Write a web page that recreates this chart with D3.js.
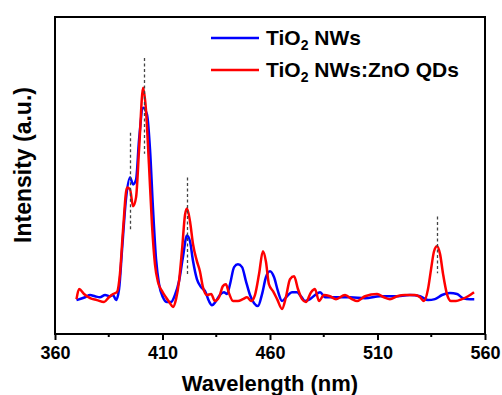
<html>
<script src="https://d3js.org/d3.v7.min.js"></script>
<style>
  body { margin: 0; background: #fff; }
  text { font-family: Arial, "Liberation Sans", sans-serif; font-weight: bold; }
</style>
<body>
<svg id="chart" width="502" height="395"></svg>
<script>
// wavelength (nm) and intensity (a.u.)
var blueX = [370,374,376.3,378.6,380.9,383.3,385.6,387,388.4,389.8,391.2,393,394.9,396.3,397.7,399.1,401,402.8,404.2,405.6,407,408.4,410.2,412.1,414,415.8,417.7,419.5,421.4,422.8,424.2,426,427.9,429.8,431.6,433,434.9,436.7,438.6,440,441.4,443.3,445.1,447,448.8,450.7,452.6,454.4,456.3,458.1,460,461.9,463.7,465.6,467.9,470.2,472.6,474.4,476.3,478.6,481,483.3,485.6,490.2,497.2,504.2,511.2,518.1,525.1,529.8,533.5,536.7,540,543.7,547,549.8,553,555];
var blueY = [10.7,11.6,12.3,11.9,11.6,12.3,11.9,12.3,10.7,14.2,26.7,42.5,49.4,47.2,48.7,61.3,71.4,69.2,58.2,39.3,23.6,15.7,11.6,10.1,10.1,12.3,16.7,24.2,31.1,29.2,23,17.3,14.8,13.5,10.4,9.1,10.4,12.3,13.2,12.6,15.7,21.1,22,21.1,16.7,12.3,9.7,8.8,12.6,17.9,19.8,17.9,13.5,10.4,11.9,13.2,13.2,11.9,10.4,11,12.3,13.2,11.6,11.6,11.6,11.3,11.9,11.9,12.3,11.9,10.7,11,12.3,12.9,12.6,11.3,11,11];

var redX = [370,371.2,373.5,376.3,379.5,382.8,385.1,387,388.8,390.2,391.6,393.5,394.9,396.3,397.7,399.1,401,402.3,403.7,405.1,406.5,407.9,409.8,411.6,413.5,414.9,416.3,417.7,419.1,420.5,421.4,422.8,424.2,426,427.4,428.8,430.7,432.6,434.4,436.3,438.1,439.5,440.9,442.8,445.1,447.4,449.3,451.2,453,454.9,456.7,458.1,459.5,461.4,463.3,465.6,467.4,469.3,471.2,473,474.9,476.7,479.1,480.9,482.8,485.1,487.9,490.7,494.9,498.1,500.5,504.2,509.8,513,515.8,519.1,522.8,527.4,529.8,531.6,533.5,534.9,536.3,537.7,539.1,540.5,542.3,544.2,546.5,549.3,552.1,554.9];
var redY = [11,14.2,12.6,11.3,10.7,10.1,11.6,12.6,13.2,18.9,32.4,46.2,45.6,40.3,43.1,58.2,77.7,70.8,53.5,34.6,22,16.4,13.5,11.6,9.7,8.5,11,16.7,26.7,37.7,39.6,35.5,28.3,23,19.8,14.8,12.3,12.6,10.4,11.6,15.1,15.7,12.9,10.4,10.4,11,11.6,10.4,12.3,18.9,26.1,22.9,15.7,13.5,11,7.9,11.6,17.3,18.2,14.2,11,10.1,13.2,14.2,10.4,12.3,11.9,11,12.3,11,10.4,11.9,12.6,11.6,11,11.9,12.3,12.3,11.6,10.4,14.2,20.4,26.1,27.7,25.2,18.9,12.6,10.4,10.4,11,11.9,13.2];

// dashed peak markers
var peakX = [394.9, 401.4, 421.4, 537.7];
var peakTop = [63.5, 87.1, 49.4, 37.1];
var peakBottom = [33, 56.9, 18.9, 19.2];

var xTicks = [360, 410, 460, 510, 560];
var xMinor = [385, 435, 485, 535];
var seriesNames = ["TiO", "TiO"];
var seriesSuffix = [" NWs", " NWs:ZnO QDs"];
var seriesColors = ["#0000ff", "#ff0000"];

var svg = d3.select("#chart");
var mLeft = 55, mRight = 485, mTop = 17, mBottom = 334;

var x = d3.scaleLinear().domain([360, 560]).range([mLeft, mRight]);
var y = d3.scaleLinear().domain([0, 100]).range([mBottom, mTop]);

var line = d3.line()
  .x(function(d){ return x(d[0]); })
  .y(function(d){ return y(d[1]); })
  .curve(d3.curveMonotoneX);

var blue = d3.zip(blueX, blueY);
var red = d3.zip(redX, redY);

svg.append("path").datum(blue).attr("d", line)
  .attr("fill", "none").attr("stroke", seriesColors[0]).attr("stroke-width", 2.5);
svg.append("path").datum(red).attr("d", line)
  .attr("fill", "none").attr("stroke", seriesColors[1]).attr("stroke-width", 2.5);

// dashed lines, drawn over the curves
svg.selectAll(".peak").data(peakX).enter().append("line")
  .attr("x1", function(d){ return Math.round(x(d)) + 0.5; })
  .attr("x2", function(d){ return Math.round(x(d)) + 0.5; })
  .attr("y1", function(d, i){ return y(peakTop[i]); })
  .attr("y2", function(d, i){ return y(peakBottom[i]); })
  .attr("stroke", "#444").attr("stroke-width", 1.3)
  .attr("stroke-dasharray", "3,2.5");

// frame
svg.append("rect").attr("x", mLeft).attr("y", mTop)
  .attr("width", mRight - mLeft).attr("height", mBottom - mTop)
  .attr("fill", "none").attr("stroke", "#000").attr("stroke-width", 2);

// x axis
var xAxis = d3.axisBottom(x).tickValues(xTicks).tickSize(6).tickPadding(6);
var gx = svg.append("g").attr("transform", "translate(0," + mBottom + ")").call(xAxis);
gx.select(".domain").remove();
gx.selectAll(".tick line").attr("stroke-width", 2);
gx.selectAll("text").style("font-size", "18px").attr("fill", "#000")
  .style("font-family", "Arial, 'Liberation Sans', sans-serif").style("font-weight", "bold");

svg.selectAll(".minor").data(xMinor).enter().append("line")
  .attr("x1", function(d){ return x(d); }).attr("x2", function(d){ return x(d); })
  .attr("y1", mBottom).attr("y2", mBottom + 3)
  .attr("stroke", "#000").attr("stroke-width", 2);

// axis titles
svg.append("text").attr("x", (mLeft + mRight) / 2).attr("y", 391)
  .attr("text-anchor", "middle").style("font-size", "22px")
  .text("Wavelength (nm)");

svg.append("text")
  .attr("transform", "translate(31,165) rotate(-90)")
  .attr("text-anchor", "middle").style("font-size", "23px")
  .text("Intensity (a.u.)");

// legend
var legend = svg.selectAll(".legend").data(seriesColors).enter().append("g")
  .attr("transform", function(d, i){ return "translate(211," + (38 + i * 32) + ")"; });
legend.append("line").attr("x1", 0).attr("x2", 48)
  .attr("stroke", function(d){ return d; }).attr("stroke-width", 2.5);
var lt = legend.append("text").attr("x", 55).attr("y", 7).style("font-size", "21px");
lt.append("tspan").text(function(d, i){ return seriesNames[i]; });
lt.append("tspan").attr("dy", 5).style("font-size", "14px").text("2");
lt.append("tspan").attr("dy", -5).text(function(d, i){ return seriesSuffix[i]; });
</script>
</body>
</html>
